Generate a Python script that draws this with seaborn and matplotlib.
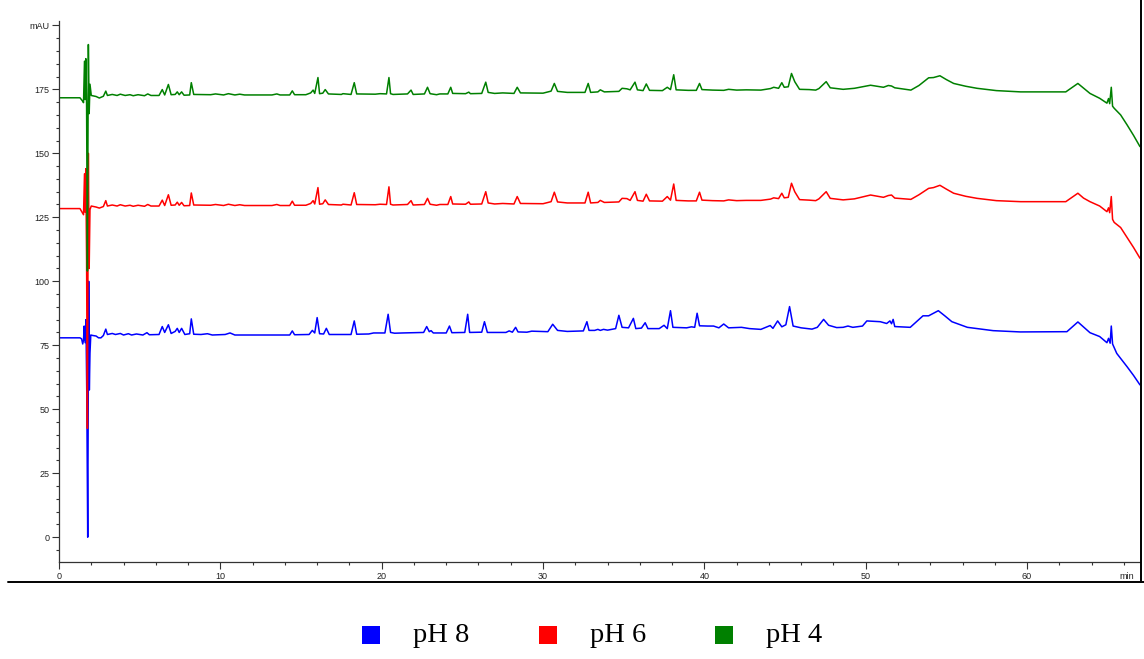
import matplotlib
matplotlib.use("Agg")
import matplotlib.pyplot as plt
from matplotlib.lines import Line2D
from matplotlib.patches import Rectangle
from matplotlib.ticker import MultipleLocator, FixedLocator
import matplotlib.transforms as mtransforms
import numpy as np
import pandas as pd
import seaborn as sns

# ---- chromatogram traces (retention time in min, absorbance in mAU) ----
ph8_time = [0.0, 1.30, 1.40, 1.47, 1.52, 1.56, 1.62, 1.67, 1.72, 1.78, 1.84, 1.88, 1.92, 1.97,
            2.1, 2.3, 2.45, 2.6, 2.75, 2.9, 3.0, 3.3, 3.5, 3.8, 4.0, 4.3, 4.5, 4.8, 5.2, 5.45,
            5.6, 6.2, 6.4, 6.55, 6.78, 6.95, 7.2, 7.33, 7.45, 7.6, 7.8, 8.1, 8.2, 8.35, 8.8,
            9.2, 9.5, 10.3, 10.6, 10.9, 14.3, 14.46, 14.6, 15.5, 15.7, 15.85, 16.0, 16.15,
            16.4, 16.57, 16.75, 18.1, 18.3, 18.45, 19.2, 19.5, 20.2, 20.4, 20.55, 20.8, 21.3,
            22.6, 22.79, 22.95, 23.06, 23.2, 24.0, 24.2, 24.35, 25.15, 25.33, 25.45, 26.2,
            26.37, 26.55, 27.7, 27.9, 28.1, 28.3, 28.45, 29.0, 29.3, 30.3, 30.6, 30.9, 31.5,
            32.5, 32.72, 32.85, 33.2, 33.4, 33.55, 33.75, 34.0, 34.5, 34.7, 34.9, 35.3, 35.6,
            35.75, 36.1, 36.33, 36.5, 37.2, 37.5, 37.7, 37.9, 38.05, 38.9, 39.2, 39.4, 39.55,
            39.7, 40.2, 40.57, 40.9, 41.2, 41.5, 42.3, 42.8, 43.5, 44.08, 44.25, 44.54, 44.8,
            45.05, 45.28, 45.5, 46.0, 46.67, 47.0, 47.39, 47.7, 48.2, 48.6, 48.9, 49.2, 49.8,
            50.07, 50.9, 51.3, 51.5, 51.6, 51.7, 51.8, 52.76, 53.55, 53.9, 54.5, 54.9, 55.34,
            56.3, 57.9, 59.58, 62.47, 63.15, 63.9, 64.5, 64.95, 65.05, 65.15, 65.22, 65.3,
            65.56, 66.2, 66.6, 67.0]
ph8_mau = [77.9, 77.9, 77.5, 75.5, 77.0, 82.5, 76.0, 85.0, 57.0, 0.0, 100.0, 57.5, 72.0, 79.0,
           78.8, 78.6, 77.9, 77.9, 78.8, 81.3, 79.2, 79.6, 79.2, 79.6, 79.0, 79.5, 79.0, 79.4,
           79.0, 79.9, 79.1, 79.2, 82.3, 80.0, 83.0, 79.6, 80.4, 81.6, 80.0, 81.6, 79.2, 79.5,
           85.3, 79.3, 79.2, 79.5, 79.0, 79.2, 79.8, 79.0, 79.0, 80.6, 79.1, 79.2, 80.8, 79.8,
           85.8, 79.5, 79.4, 81.6, 79.2, 79.2, 84.5, 79.3, 79.4, 79.8, 79.8, 87.1, 80.0, 79.7,
           79.8, 80.0, 82.3, 80.3, 80.7, 79.8, 79.8, 82.5, 79.9, 80.0, 87.1, 80.0, 80.1, 84.2,
           80.0, 80.0, 80.6, 80.1, 82.0, 80.2, 80.1, 80.5, 80.3, 83.2, 80.8, 80.4, 80.6, 84.2,
           80.8, 80.8, 81.2, 80.8, 81.2, 80.9, 81.5, 86.7, 82.0, 81.8, 85.5, 81.5, 81.7, 83.8,
           81.5, 81.5, 82.8, 81.5, 88.5, 82.0, 81.8, 82.2, 82.0, 87.5, 82.6, 82.5, 82.5, 81.8,
           83.3, 81.8, 82.0, 81.5, 81.2, 82.7, 81.6, 84.5, 82.2, 83.0, 90.1, 82.5, 81.8, 81.3,
           82.0, 85.1, 82.8, 81.9, 82.0, 82.5, 82.0, 82.5, 84.5, 84.2, 83.5, 84.5, 83.4, 85.1,
           82.3, 82.0, 86.5, 86.5, 88.5, 86.5, 84.2, 82.0, 80.7, 80.2, 80.3, 84.1, 79.9, 78.4,
           76.0, 77.7, 75.8, 82.5, 75.5, 71.8, 66.6, 63.2, 59.5]

ph6_time = [0.0, 1.30, 1.45, 1.52, 1.58, 1.62, 1.66, 1.71, 1.76, 1.82, 1.87, 1.92, 2.0, 2.3,
            2.5, 2.75, 2.9, 3.0, 3.3, 3.6, 3.8, 4.1, 4.4, 4.6, 4.9, 5.3, 5.5, 5.7, 6.2, 6.4,
            6.55, 6.78, 6.95, 7.2, 7.33, 7.45, 7.6, 7.75, 8.1, 8.2, 8.35, 9.4, 9.7, 10.2, 10.5,
            10.9, 11.2, 11.5, 13.2, 13.5, 13.7, 14.3, 14.46, 14.6, 15.3, 15.6, 15.75, 15.85,
            16.05, 16.15, 16.35, 16.5, 16.7, 17.5, 17.6, 18.1, 18.3, 18.45, 19.6, 19.9, 20.3,
            20.45, 20.55, 20.7, 21.6, 21.82, 21.95, 22.65, 22.84, 23.0, 23.4, 23.6, 24.1,
            24.28, 24.4, 25.2, 25.4, 25.5, 26.2, 26.45, 26.6, 27.0, 27.5, 28.2, 28.4, 28.6,
            30.0, 30.5, 30.7, 30.9, 31.5, 32.6, 32.8, 32.95, 33.4, 33.55, 33.8, 34.7, 34.9,
            35.2, 35.4, 35.7, 35.85, 36.2, 36.4, 36.6, 37.4, 37.7, 37.9, 38.1, 38.25, 39.0,
            39.5, 39.7, 39.85, 40.5, 41.2, 41.5, 42.0, 42.6, 43.5, 44.1, 44.3, 44.6, 44.8,
            44.95, 45.2, 45.4, 45.6, 45.9, 46.5, 46.9, 47.1, 47.55, 47.8, 48.6, 49.3, 50.3,
            51.1, 51.4, 51.6, 51.8, 52.8, 53.3, 53.9, 54.2, 54.6, 55.0, 55.45, 56.2, 56.9,
            58.1, 59.6, 62.4, 63.15, 63.5, 63.9, 64.5, 64.95, 65.05, 65.12, 65.22, 65.3, 65.4,
            65.8, 66.2, 66.6, 67.0]
ph6_mau = [128.4, 128.4, 126.8, 126.0, 142.0, 127.0, 144.0, 108.0, 42.5, 150.0, 105.0, 128.0,
           129.4, 129.0, 128.6, 129.2, 131.5, 129.4, 129.8, 129.4, 129.9, 129.4, 129.7, 129.3,
           129.7, 129.3, 130.0, 129.4, 129.4, 131.7, 129.6, 133.8, 129.7, 129.8, 130.9, 129.7,
           130.8, 129.5, 129.6, 134.5, 129.8, 129.7, 130.0, 129.6, 130.1, 129.6, 129.9, 129.6,
           129.6, 130.0, 129.6, 129.6, 131.3, 129.7, 129.7, 130.4, 131.5, 130.2, 136.6, 130.1,
           130.3, 131.8, 130.0, 129.8, 130.1, 129.8, 134.6, 130.0, 129.9, 130.1, 130.0, 136.9,
           130.1, 129.8, 130.0, 131.5, 129.8, 130.0, 132.4, 130.1, 129.7, 130.0, 130.0, 133.1,
           130.2, 130.1, 131.0, 130.1, 130.2, 135.0, 130.6, 130.2, 130.4, 130.2, 133.1, 130.4,
           130.3, 131.1, 134.8, 131.0, 130.6, 130.6, 134.8, 130.6, 130.8, 131.6, 130.8, 131.0,
           132.4, 132.3, 131.6, 135.0, 131.6, 131.3, 134.0, 131.4, 131.3, 133.1, 131.7, 138.0,
           131.6, 131.4, 131.4, 134.8, 131.7, 131.5, 131.4, 131.8, 131.5, 131.6, 131.6, 132.1,
           132.6, 132.3, 134.4, 132.6, 132.8, 138.3, 135.0, 131.9, 131.7, 131.5, 132.2, 135.0,
           132.4, 131.8, 132.2, 133.7, 132.8, 133.5, 133.7, 132.5, 132.0, 133.8, 136.3, 136.6,
           137.5, 136.0, 134.4, 133.2, 132.4, 131.5, 131.1, 131.1, 134.4, 132.5, 131.1, 129.4,
           127.2, 128.7, 126.8, 133.1, 124.2, 123.0, 121.0, 117.1, 113.2, 109.0]

ph4_time = ph6_time
ph4_mau = [171.7, 171.7, 170.5, 169.8, 186.0, 171.0, 187.0, 169.0, 104.0, 192.5, 165.5, 177.0,
           172.6, 172.2, 171.6, 172.3, 174.3, 172.6, 173.0, 172.6, 173.1, 172.6, 172.9, 172.5,
           172.9, 172.5, 173.2, 172.6, 172.6, 174.9, 172.8, 176.9, 172.9, 173.0, 174.0, 172.9,
           174.0, 172.7, 172.8, 177.6, 173.0, 172.9, 173.2, 172.8, 173.3, 172.8, 173.1, 172.8,
           172.8, 173.2, 172.8, 172.8, 174.4, 172.9, 172.9, 173.6, 174.7, 173.4, 179.6, 173.3,
           173.5, 174.9, 173.2, 173.0, 173.3, 173.0, 177.6, 173.2, 173.1, 173.3, 173.2, 179.6,
           173.3, 173.0, 173.2, 174.7, 173.0, 173.2, 175.8, 173.3, 172.9, 173.2, 173.2, 175.8,
           173.4, 173.3, 173.9, 173.3, 173.4, 177.8, 173.8, 173.4, 173.6, 173.4, 175.8, 173.6,
           173.5, 174.3, 177.3, 174.2, 173.8, 173.8, 177.3, 173.8, 174.0, 174.8, 174.0, 174.2,
           175.4, 175.2, 174.8, 177.8, 174.8, 174.5, 177.1, 174.6, 174.5, 175.8, 174.9, 180.7,
           174.8, 174.6, 174.6, 177.3, 174.9, 174.7, 174.6, 175.0, 174.7, 174.8, 174.7, 175.3,
           175.8, 175.4, 177.6, 175.8, 176.0, 181.2, 178.0, 175.0, 174.9, 174.7, 175.3, 178.0,
           175.6, 175.0, 175.4, 176.6, 175.8, 176.5, 176.3, 175.6, 174.7, 176.5, 179.5, 179.6,
           180.3, 178.8, 177.3, 176.2, 175.4, 174.5, 174.0, 174.0, 177.3, 175.5, 173.4, 171.5,
           169.6, 171.4, 169.4, 175.8, 168.4, 167.6, 165.0, 161.1, 157.0, 152.6]

samples = ["pH 8", "pH 6", "pH 4"]
colors = ["#0000ff", "#ff0000", "#008000"]

df = pd.concat([
    pd.DataFrame({"time": ph8_time, "mAU": ph8_mau, "sample": "pH 8"}),
    pd.DataFrame({"time": ph6_time, "mAU": ph6_mau, "sample": "pH 6"}),
    pd.DataFrame({"time": ph4_time, "mAU": ph4_mau, "sample": "pH 4"}),
], ignore_index=True)

sns.set_style("ticks")
plt.rcParams["font.family"] = ["Liberation Sans", "DejaVu Sans"]

W, H = 1144, 659
fig = plt.figure(figsize=(W / 100, H / 100), dpi=100)
ax = fig.add_axes([59 / W, 1 - 562 / H, (1140 - 59) / W, (562 - 21) / H])

sns.lineplot(data=df, x="time", y="mAU", hue="sample", hue_order=samples,
             palette=dict(zip(samples, colors)), estimator=None, sort=False,
             legend=False, linewidth=1.1, ax=ax)

ax.set_xlim(0, 67.0)
ax.set_ylim(-9.7, 201.7)
ax.set_xlabel("")
ax.set_ylabel("")

ax.xaxis.set_major_locator(FixedLocator([0, 10, 20, 30, 40, 50, 60]))
ax.xaxis.set_minor_locator(MultipleLocator(2))
ax.yaxis.set_major_locator(FixedLocator([0, 25, 50, 75, 100, 125, 150, 175, 200]))
ax.yaxis.set_minor_locator(MultipleLocator(5))
ax.set_yticklabels(["0", "25", "50", "75", "100", "125", "150", "175", "mAU"])

ax.tick_params(axis="both", which="major", length=5, width=0.8, color="#333333",
               labelsize=6.5, labelcolor="#222222", pad=2)
ax.tick_params(axis="both", which="minor", length=2.5, width=0.8, color="#333333")

for side in ["top", "right"]:
    ax.spines[side].set_visible(False)
for side in ["left", "bottom"]:
    ax.spines[side].set_color("#333333")
    ax.spines[side].set_linewidth(0.9)

# time unit on the tick-label row, just left of the frame
unit_tf = ax.get_xaxis_transform() + mtransforms.ScaledTranslation(0, -7 / 72, fig.dpi_scale_trans)
ax.text(66.2, 0, "min", transform=unit_tf, ha="center", va="top",
        fontsize=6.5, color="#222222")

# frame lines around the plot area
fig.add_artist(Line2D([1140.5 / W, 1140.5 / W], [1.0, 1 - 582 / H], color="black",
                      linewidth=1.4, transform=fig.transFigure))
fig.add_artist(Line2D([8 / W, 1.0], [1 - 582 / H, 1 - 582 / H], color="black",
                      linewidth=1.4, transform=fig.transFigure))

# legend: coloured squares with serif labels
sq = 18
for i, (name, col) in enumerate(zip(samples, colors)):
    x0 = 362 + i * 176.5
    fig.add_artist(Rectangle((x0 / W, 1 - 644 / H), sq / W, sq / H, facecolor=col,
                             edgecolor="none", transform=fig.transFigure))
    fig.text((x0 + 51) / W, 1 - 636 / H, name, ha="left", va="center",
             fontsize=20.5, family=["Liberation Serif", "DejaVu Serif"], color="black")

fig.savefig("out.png", dpi=100, facecolor="white")
